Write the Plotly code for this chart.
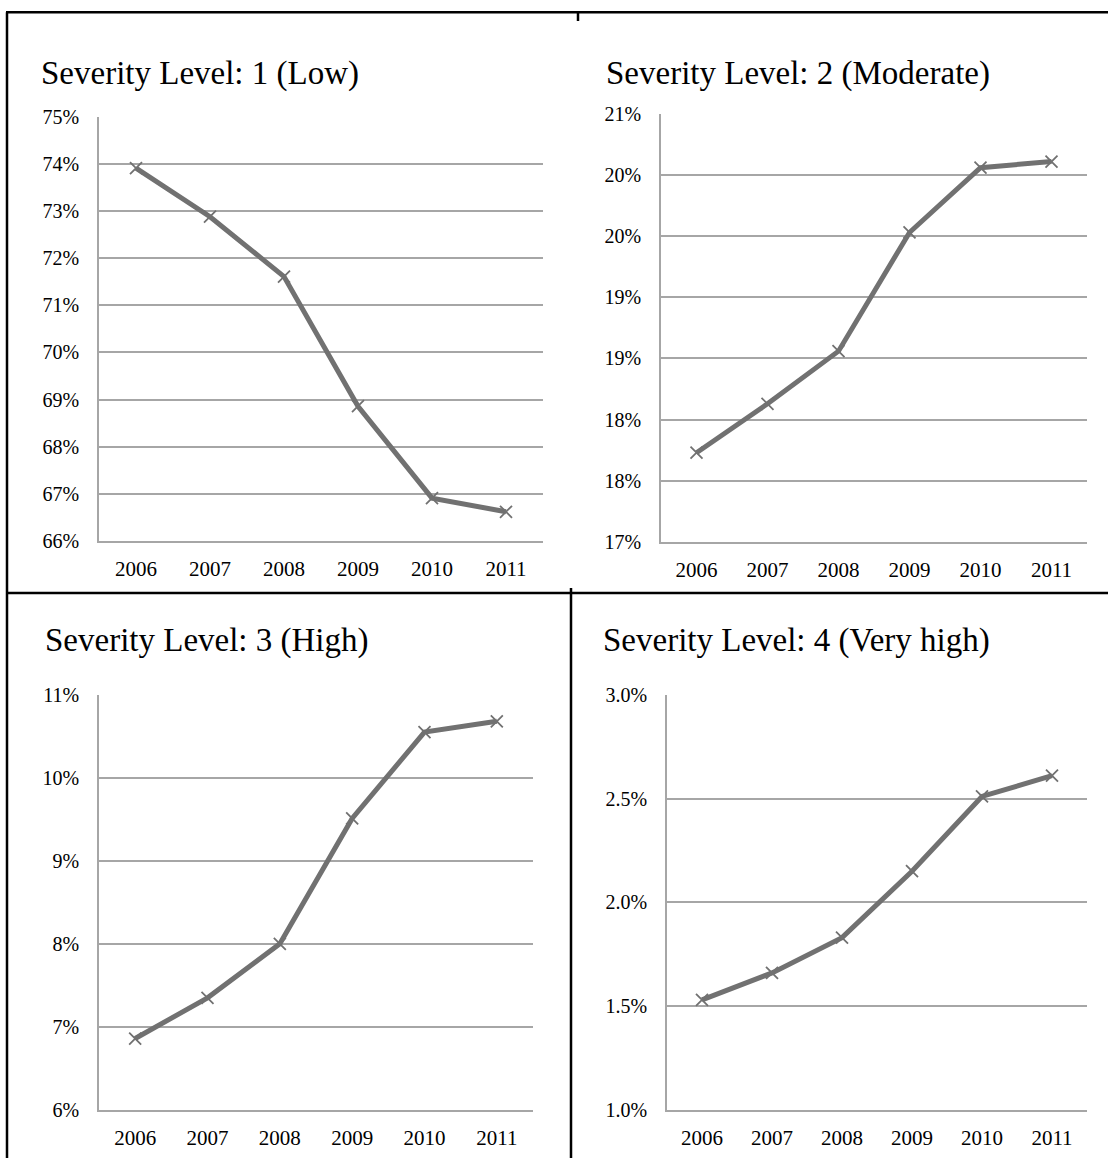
import plotly.graph_objects as go

W, H = 1108, 1169

years = ["2006", "2007", "2008", "2009", "2010", "2011"]

titles = [
    "Severity Level: 1 (Low)",
    "Severity Level: 2 (Moderate)",
    "Severity Level: 3 (High)",
    "Severity Level: 4 (Very high)",
]

level1 = [0.7391, 0.7288, 0.7161, 0.6886, 0.6691, 0.6662]
level2 = [0.1773, 0.1813, 0.1856, 0.1953, 0.2006, 0.2011]
level3 = [0.0686, 0.0735, 0.0800, 0.0951, 0.1055, 0.1068]
level4 = [0.0153, 0.0166, 0.0183, 0.0215, 0.0251, 0.0261]

tick_vals1 = [0.66, 0.67, 0.68, 0.69, 0.70, 0.71, 0.72, 0.73, 0.74, 0.75]
tick_text1 = ["66%", "67%", "68%", "69%", "70%", "71%", "72%", "73%", "74%", "75%"]
tick_vals2 = [0.170, 0.175, 0.180, 0.185, 0.190, 0.195, 0.200, 0.205]
tick_text2 = ["17%", "18%", "18%", "19%", "19%", "20%", "20%", "21%"]
tick_vals3 = [0.06, 0.07, 0.08, 0.09, 0.10, 0.11]
tick_text3 = ["6%", "7%", "8%", "9%", "10%", "11%"]
tick_vals4 = [0.010, 0.015, 0.020, 0.025, 0.030]
tick_text4 = ["1.0%", "1.5%", "2.0%", "2.5%", "3.0%"]

series = [level1, level2, level3, level4]
ticks = [(tick_vals1, tick_text1), (tick_vals2, tick_text2),
         (tick_vals3, tick_text3), (tick_vals4, tick_text4)]


def Y(y):
    # vertical pixel position -> page pixel position
    return max(0.0, (y - 9.0) / 0.983)


# plot areas in pixels: (left, right, top, bottom)
boxes = [(99, 543, 115, 540), (661, 1087, 112, 541),
         (99, 533, 694, 1110), (667, 1087, 694, 1110)]
title_pos = [(39, 72), (604, 72), (43, 640), (601, 640)]

FONT = "Liberation Serif"
LINE = "#717171"
GRID = "#a6a6a6"

fig = go.Figure()
layout = dict(
    width=W, height=H, margin=dict(l=0, r=0, t=0, b=0),
    paper_bgcolor="white", plot_bgcolor="white", showlegend=False,
    font=dict(family=FONT, color="black"),
)

for i, (vals, (tv, tt), box) in enumerate(zip(series, ticks, boxes)):
    n = "" if i == 0 else str(i + 1)
    fig.add_trace(go.Scatter(
        x=years, y=vals, mode="lines+markers",
        line=dict(color=LINE, width=5),
        marker=dict(symbol="x-thin", size=12, color=LINE,
                    line=dict(color=LINE, width=1.8)),
        xaxis="x" + n, yaxis="y" + n, hoverinfo="x+y",
    ))
    l, r, t, b = box
    layout["xaxis" + n] = dict(
        domain=[l / W, r / W], anchor="y" + n, type="category",
        range=[-0.5, 5.5], showgrid=False, zeroline=False,
        showline=True, linecolor=GRID, linewidth=1.5,
        ticks="", tickfont=dict(family=FONT, size=21, color="black"),
        ticklabelstandoff=8,
    )
    layout["yaxis" + n] = dict(
        domain=[1 - Y(b) / H, 1 - Y(t) / H], anchor="x" + n,
        range=[tv[0], tv[-1]], tickvals=tv, ticktext=tt,
        showgrid=True, gridcolor=GRID, gridwidth=1.5, zeroline=False,
        showline=True, linecolor=GRID, linewidth=1.5,
        ticks="", tickfont=dict(family=FONT, size=20, color="black"),
        ticklabelstandoff=14,
    )

annotations = []
for (tx, ty), txt in zip(title_pos, titles):
    annotations.append(dict(
        text=txt, x=tx / W, y=1 - Y(ty) / H, xref="paper", yref="paper",
        xanchor="left", yanchor="middle", showarrow=False,
        font=dict(family=FONT, size=33, color="black"),
    ))
layout["annotations"] = annotations


def hline(x0, x1, y):
    return dict(type="line", xref="paper", yref="paper",
                x0=x0 / W, x1=x1 / W, y0=1 - Y(y) / H, y1=1 - Y(y) / H,
                line=dict(color="black", width=2.5))


def vline(x, y0, y1):
    return dict(type="line", xref="paper", yref="paper",
                x0=x / W, x1=x / W, y0=1 - Y(y0) / H, y1=1 - y1 / H,
                line=dict(color="black", width=2.5))


layout["shapes"] = [
    hline(6, W, 10.2),
    vline(7, 10.2, H),
    vline(578, 0, 10.2),
    hline(6, W, 592),
    vline(571, 587, H),
]

fig.update_layout(**layout)
fig.write_html(
    "out.html",
    config={"displayModeBar": False},
    post_script="document.body.style.margin='0';document.body.style.overflow='hidden';",
)
